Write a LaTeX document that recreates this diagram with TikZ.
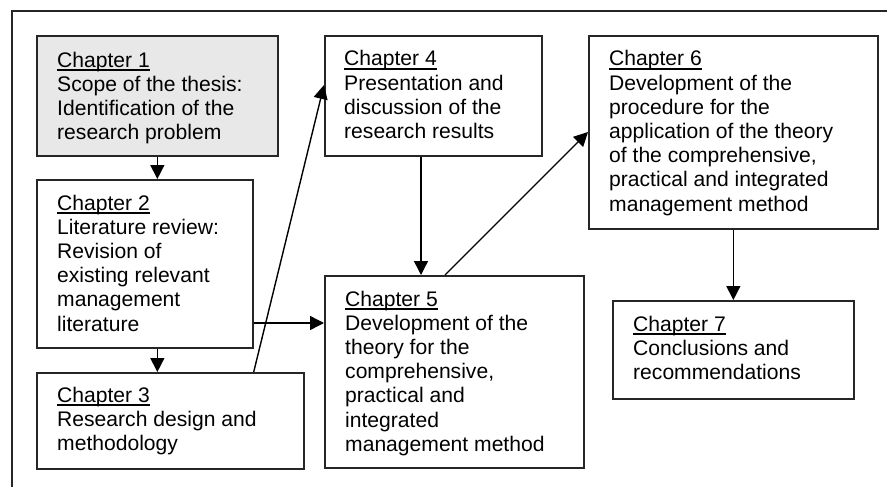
\documentclass[tikz,border=0pt]{standalone}
\usepackage{fontspec}
\setmainfont{Liberation Sans}
\usetikzlibrary{arrows.meta}
\newcommand\ulchap[1]{\setbox0\hbox{#1}\rlap{\rule[-3.8pt]{\wd0}{1.7pt}}\box0}
\newcommand\txl[1]{\hbox{#1}}
\begin{document}
\begin{tikzpicture}[x=1pt,y=-1pt,
  chbox/.style={draw=black!85,line width=1.7pt,rectangle,inner sep=0pt,anchor=north west},
  chtext/.style={anchor=base west,inner sep=0pt,font=\fontsize{21.1}{24.2}\selectfont,text=black},
  arr/.style={line width=1.4pt,-{Triangle[length=14pt,width=14pt]}}]
\useasboundingbox (0,0) rectangle (887,487);
\draw[line width=1.6pt,black!85] (12,487) -- (12,11) -- (887,11);
% boxes
\node[chbox,fill=black!9,minimum width=241pt,minimum height=120pt] (c1) at (36,35) {};
\node[chbox,minimum width=216pt,minimum height=168pt] (c2) at (36,179) {};
\node[chbox,minimum width=267pt,minimum height=96pt] (c3) at (36,372) {};
\node[chbox,minimum width=217pt,minimum height=120pt] (c4) at (324,35) {};
\node[chbox,minimum width=259pt,minimum height=192pt] (c5) at (324,275) {};
\node[chbox,minimum width=289pt,minimum height=193pt] (c6) at (588,35) {};
\node[chbox,minimum width=241pt,minimum height=98pt] (c7) at (612,300) {};
% texts
\node[chtext] (t1) at (57,67) {\vtop{\txl{\ulchap{Chapter 1}}\txl{Scope of the thesis:}\txl{Identification of the}\txl{research problem}}};
\node[chtext] (t2) at (57,210) {\vtop{\txl{\ulchap{Chapter 2}}\txl{Literature review:}\txl{Revision of}\txl{existing relevant}\txl{management}\txl{literature}}};
\node[chtext] (t3) at (57,402) {\vtop{\txl{\ulchap{Chapter 3}}\txl{Research design and}\txl{methodology}}};
\node[chtext] (t4) at (344,66) {\vtop{\txl{\ulchap{Chapter 4}}\txl{Presentation and}\txl{discussion of the}\txl{research results}}};
\node[chtext] (t5) at (345,306) {\vtop{\txl{\ulchap{Chapter 5}}\txl{Development of the}\txl{theory for the}\txl{comprehensive,}\txl{practical and}\txl{integrated}\txl{management method}}};
\node[chtext] (t6) at (609,66) {\vtop{\txl{\ulchap{Chapter 6}}\txl{Development of the}\txl{procedure for the}\txl{application of the theory}\txl{of the comprehensive,}\txl{practical and integrated}\txl{management method}}};
\node[chtext] (t7) at (633,331) {\vtop{\txl{\ulchap{Chapter 7}}\txl{Conclusions and}\txl{recommendations}}};
% connectors
\draw[arr] (c1.south) -- (c1.south |- c2.north);
\draw[arr] (c2.south -| c1.south) -- (c3.north -| c1.south);
\draw[arr] (c2.east |- 0,323) -- (c5.west |- 0,323);
\draw[arr] (c2.east |- c3.north) -- (c4.west |- 0,85);
\draw[arr] (c4.south -| 421,0) -- (c5.north -| 421,0);
\draw[arr] (c5.north -| 445,0) -- (c6.west |- 0,132);
\draw[arr] (c6.south) -- (c7.north);
\end{tikzpicture}
\end{document}
